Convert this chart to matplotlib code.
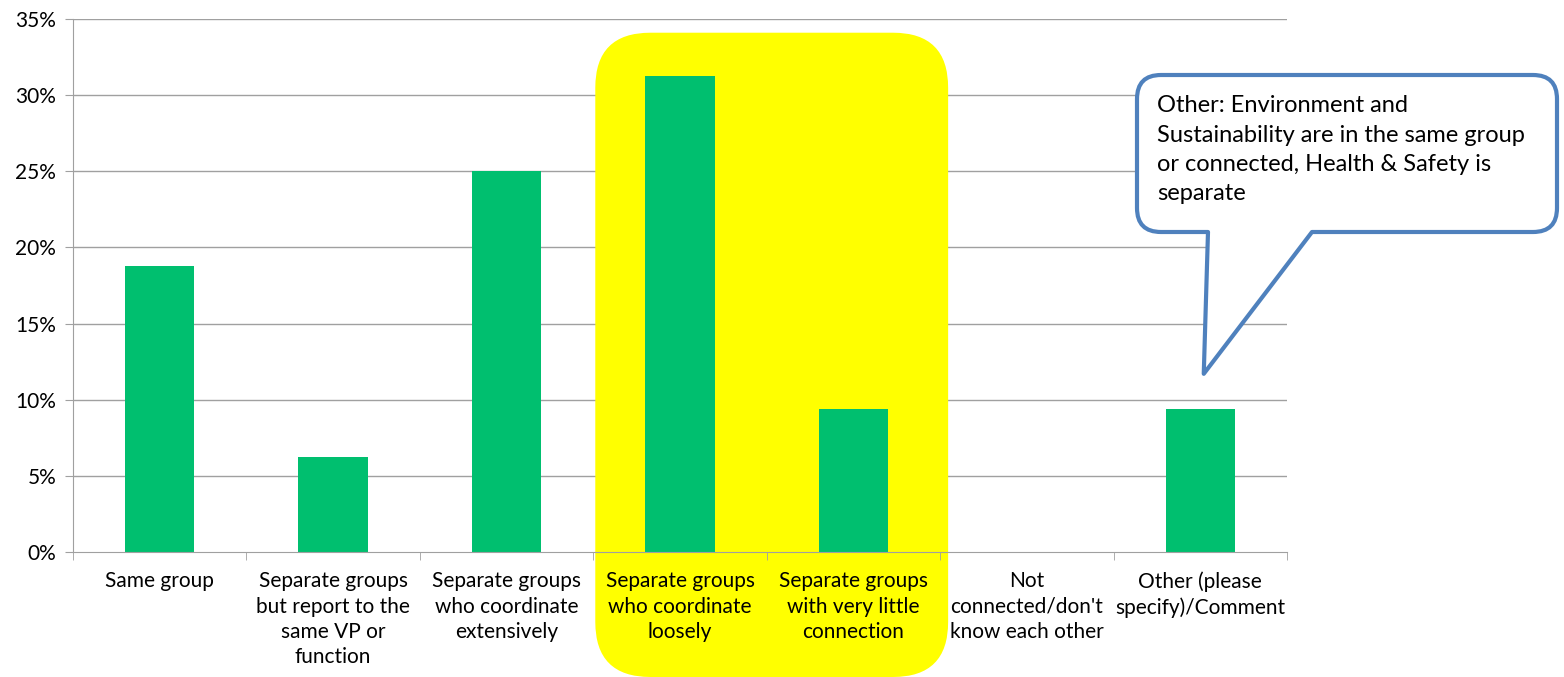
import matplotlib.pyplot as plt
from matplotlib.patches import FancyBboxPatch, PathPatch
from matplotlib.path import Path
from matplotlib.ticker import PercentFormatter, FixedLocator
from matplotlib.transforms import IdentityTransform

categories = ["Same group",
              "Separate groups\nbut report to the\nsame VP or\nfunction",
              "Separate groups\nwho coordinate\nextensively",
              "Separate groups\nwho coordinate\nloosely",
              "Separate groups\nwith very little\nconnection",
              "Not\nconnected/don't\nknow each other",
              "Other (please\nspecify)/Comment"]
values = [18.75, 6.25, 25.0, 31.25, 9.375, 0.0, 9.375]
yticks = [0, 5, 10, 15, 20, 25, 30, 35]
callout_text = ("Other: Environment and\nSustainability are in the same group\n"
                "or connected, Health & Safety is\nseparate")

plt.rcParams['font.family'] = ['Lato', 'DejaVu Sans']

W, H = 1564, 677
fig = plt.figure(figsize=(W / 100, H / 100), dpi=100)
ax = fig.add_axes([73 / W, 1 - 552 / H, (1287 - 73) / W, (552 - 19) / H])

x = range(len(categories))
ax.bar(x, values, width=0.4, color='#00BF6F', zorder=3)

ax.set_xlim(-0.5, len(categories) - 0.5)
ax.set_ylim(0, 35)
ax.set_yticks(yticks)
ax.yaxis.set_major_formatter(PercentFormatter(decimals=0))
ax.set_xticks(list(x))
ax.set_xticklabels(categories, fontsize=15, linespacing=1.33)
ax.xaxis.set_minor_locator(FixedLocator([i - 0.5 for i in range(len(categories) + 1)]))
ax.tick_params(axis='x', which='major', length=0, pad=14)
ax.tick_params(axis='x', which='minor', length=6, color='#A0A0A0')
ax.tick_params(axis='y', length=6, color='#A0A0A0', labelsize=15, pad=6)
ax.set_axisbelow(False)

# gridlines drawn by hand so the yellow highlight can sit over them
for yv in yticks[1:]:
    ax.axhline(yv, color='#A0A0A0', linewidth=1, zorder=1)
for s in ['top', 'right']:
    ax.spines[s].set_visible(False)
for s in ['left', 'bottom']:
    ax.spines[s].set_color('#A0A0A0')
    ax.spines[s].set_zorder(4)
ax.patch.set_alpha(0)

# yellow highlight behind categories 3 and 4
to_px = ax.transData.transform
x0, ytop = to_px((2.5, 34.1))
x1, _ = to_px((4.5, 0))
hl = FancyBboxPatch((x0 + 2, 0), (x1 + 8) - (x0 + 2), ytop,
                    boxstyle="round,pad=0,rounding_size=55",
                    facecolor='#FFFF00', edgecolor='none',
                    transform=IdentityTransform(), zorder=2, clip_on=False)
ax.add_artist(hl)

# speech bubble callout
tipx, tipy = to_px((6.02, 11.7))
L, R, T, B = 1137, 1557, H - 75, H - 232
r = 24
ta, tb = 1208, 1312
verts = [(ta, B), (tipx, tipy), (tb, B), (R - r, B), (R, B), (R, B + r),
         (R, T - r), (R, T), (R - r, T), (L + r, T), (L, T), (L, T - r),
         (L, B + r), (L, B), (L + r, B), (ta, B)]
codes = [Path.MOVETO, Path.LINETO, Path.LINETO, Path.LINETO, Path.CURVE3, Path.CURVE3,
         Path.LINETO, Path.CURVE3, Path.CURVE3, Path.LINETO, Path.CURVE3, Path.CURVE3,
         Path.LINETO, Path.CURVE3, Path.CURVE3, Path.CLOSEPOLY]
bubble = PathPatch(Path(verts, codes), facecolor='white', edgecolor='#4F81BD',
                   linewidth=3, joinstyle='round', transform=IdentityTransform(), zorder=5)
fig.patches.append(bubble)
fig.text((L + 20) / W, (T - 20) / H, callout_text, fontsize=17, va='top', ha='left',
         linespacing=1.5, zorder=6)

fig.savefig('out.png', dpi=100)
